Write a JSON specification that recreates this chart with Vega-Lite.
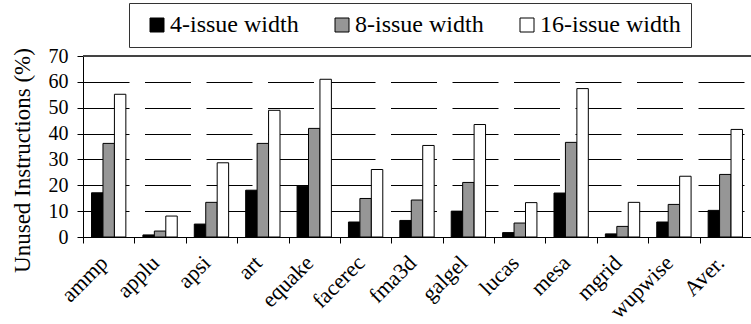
{
  "$schema": "https://vega.github.io/schema/vega-lite/v6.json",
  "width": 668,
  "height": 181,
  "autosize": {"type": "none"},
  "padding": {"left": 83, "top": 56, "right": 0, "bottom": 87},
  "background": "white",
  "config": {
    "view": {"stroke": null},
    "font": "Liberation Serif",
    "axis": {"labelFont": "Liberation Serif", "titleFont": "Liberation Serif"},
    "legend": {"labelFont": "Liberation Serif"}
  },
  "data": {
    "values": [
      {"bench": "ammp", "series": "4-issue width", "value": 17.1},
      {"bench": "ammp", "series": "8-issue width", "value": 36.2},
      {"bench": "ammp", "series": "16-issue width", "value": 55.2},
      {"bench": "applu", "series": "4-issue width", "value": 0.8},
      {"bench": "applu", "series": "8-issue width", "value": 2.3},
      {"bench": "applu", "series": "16-issue width", "value": 8.1},
      {"bench": "apsi", "series": "4-issue width", "value": 5.0},
      {"bench": "apsi", "series": "8-issue width", "value": 13.4},
      {"bench": "apsi", "series": "16-issue width", "value": 28.7},
      {"bench": "art", "series": "4-issue width", "value": 18.1},
      {"bench": "art", "series": "8-issue width", "value": 36.2},
      {"bench": "art", "series": "16-issue width", "value": 49.0},
      {"bench": "equake", "series": "4-issue width", "value": 19.7},
      {"bench": "equake", "series": "8-issue width", "value": 42.0},
      {"bench": "equake", "series": "16-issue width", "value": 61.0},
      {"bench": "facerec", "series": "4-issue width", "value": 5.8},
      {"bench": "facerec", "series": "8-issue width", "value": 14.9},
      {"bench": "facerec", "series": "16-issue width", "value": 26.1},
      {"bench": "fma3d", "series": "4-issue width", "value": 6.4},
      {"bench": "fma3d", "series": "8-issue width", "value": 14.3},
      {"bench": "fma3d", "series": "16-issue width", "value": 35.4},
      {"bench": "galgel", "series": "4-issue width", "value": 10.0},
      {"bench": "galgel", "series": "8-issue width", "value": 21.1},
      {"bench": "galgel", "series": "16-issue width", "value": 43.5},
      {"bench": "lucas", "series": "4-issue width", "value": 1.7},
      {"bench": "lucas", "series": "8-issue width", "value": 5.4},
      {"bench": "lucas", "series": "16-issue width", "value": 13.3},
      {"bench": "mesa", "series": "4-issue width", "value": 17.0},
      {"bench": "mesa", "series": "8-issue width", "value": 36.6},
      {"bench": "mesa", "series": "16-issue width", "value": 57.4},
      {"bench": "mgrid", "series": "4-issue width", "value": 1.2},
      {"bench": "mgrid", "series": "8-issue width", "value": 4.1},
      {"bench": "mgrid", "series": "16-issue width", "value": 13.4},
      {"bench": "wupwise", "series": "4-issue width", "value": 5.8},
      {"bench": "wupwise", "series": "8-issue width", "value": 12.6},
      {"bench": "wupwise", "series": "16-issue width", "value": 23.5},
      {"bench": "Aver.", "series": "4-issue width", "value": 10.3},
      {"bench": "Aver.", "series": "8-issue width", "value": 24.2},
      {"bench": "Aver.", "series": "16-issue width", "value": 41.6}
    ]
  },
  "layer": [
    {
      "mark": {"type": "bar", "stroke": "black", "strokeWidth": 1},
      "encoding": {
        "x": {
          "field": "bench",
          "type": "nominal",
          "sort": null,
          "scale": {"paddingInner": 0, "paddingOuter": 0},
          "axis": {
            "title": null,
            "tickBand": "extent",
            "domainColor": "black",
            "domainWidth": 1,
            "tickColor": "black",
            "tickSize": 6,
            "labelAngle": -45,
            "labelAlign": "right",
            "labelBaseline": "middle",
            "labelPadding": 16,
            "labelOffset": -5,
            "labelFont": "Liberation Serif",
            "labelFontSize": 22,
            "labelColor": "black",
            "grid": false
          }
        },
        "xOffset": {
          "field": "series",
          "type": "nominal",
          "sort": ["4-issue width", "8-issue width", "16-issue width"],
          "scale": {"paddingInner": 0, "paddingOuter": 0.745}
        },
        "y": {
          "field": "value",
          "type": "quantitative",
          "scale": {"domain": [0, 70], "nice": false},
          "axis": {
            "title": "Unused Instructions (%)",
            "titleFont": "Liberation Serif",
            "titleFontSize": 23,
            "titleFontWeight": "normal",
            "titleColor": "black",
            "titlePadding": 14,
            "titleY": 104,
            "values": [0, 10, 20, 30, 40, 50, 60, 70],
            "labelOverlap": false,
            "domainColor": "black",
            "tickColor": "black",
            "tickSize": 6,
            "labelFont": "Liberation Serif",
            "labelFontSize": 20,
            "labelColor": "black",
            "labelPadding": 9,
            "grid": true,
            "gridColor": "black",
            "gridWidth": 1,
            "gridDash": [46, 15.5]
          }
        },
        "fill": {
          "field": "series",
          "type": "nominal",
          "scale": {
            "domain": ["4-issue width", "8-issue width", "16-issue width"],
            "range": ["black", "#969696", "white"]
          },
          "legend": {
            "orient": "none",
            "legendX": 46,
            "legendY": -53,
            "direction": "horizontal",
            "columns": 3,
            "title": null,
            "symbolType": "square",
            "symbolSize": 196,
            "symbolStrokeColor": "black",
            "symbolStrokeWidth": 1,
            "symbolOffset": 6,
            "labelFont": "Liberation Serif",
            "labelFontSize": 24,
            "labelColor": "black",
            "labelOffset": 1,
            "columnPadding": 25,
            "padding": 10,
            "strokeColor": "#333",
            "fillColor": "white"
          }
        }
      }
    },
    {
      "mark": {"type": "rule", "color": "#444", "strokeWidth": 1},
      "encoding": {
        "y": {
          "datum": 70,
          "type": "quantitative",
          "axis": {
            "title": "Unused Instructions (%)",
            "values": [0, 10, 20, 30, 40, 50, 60, 70],
            "labelOverlap": false,
            "grid": true,
            "gridColor": "black",
            "gridDash": [46, 15.5]
          }
        }
      }
    }
  ]
}
